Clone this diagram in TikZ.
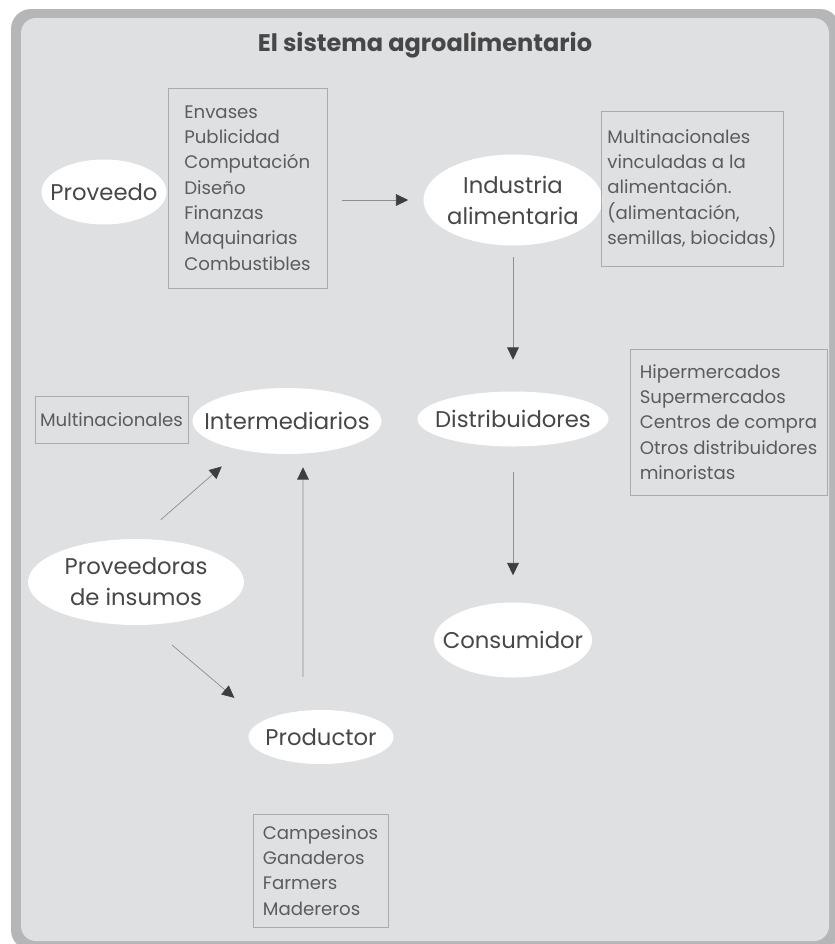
\documentclass[tikz,border=0pt]{standalone}
\usepackage{fontspec}
\setmainfont{Poppins}
\usetikzlibrary{shapes.geometric,arrows.meta}
\definecolor{Frame}{HTML}{B5B6B8}
\definecolor{Panel}{HTML}{DFE0E2}
\definecolor{Ink}{HTML}{474747}
\definecolor{InkSoft}{HTML}{5C5C5C}
\definecolor{BoxLine}{HTML}{ABABAB}
\definecolor{Wire}{HTML}{8E8E8E}
\definecolor{Tip}{HTML}{3E3E3E}
\newcommand{\ovalfont}{\fontsize{19.4}{26.5}\selectfont}
\newcommand{\listfont}{\fontsize{15.5}{21.6}\selectfont}
\newcommand{\titlefont}{\fontsize{20.5}{24}\selectfont\bfseries}

\begin{document}
\begin{tikzpicture}[x=0.03cm, y=-0.03cm,
    oval/.style={ellipse, fill=white, inner sep=0pt},
    listbox/.style={draw=BoxLine, line width=0.6pt, inner sep=0pt,
                    align=left, font=\listfont, text=InkSoft},
    flow/.style={draw=Wire, line width=0.6pt,
                 -{Triangle[length=3.7mm, width=3.5mm, color=Tip, fill=Tip]}},
    every label/.style={align=center, font=\ovalfont, text=Ink, inner sep=0pt}
  ]
  \useasboundingbox (0,0) rectangle (835,944);
  \fill[Frame, rounded corners=6mm] (11,9) rectangle (840,950);
  \fill[Panel, rounded corners=4.5mm] (21,18) rectangle (829,941);

  \node[font=\titlefont, text=Ink] (title) at (425,45) {El sistema agroalimentario};

  % ovals
  \node[oval, minimum width=3.75cm, minimum height=1.95cm, label=center:Proveedo] (prov) at (104,192) {};
  \node[oval, minimum width=5.37cm, minimum height=2.73cm, label={center:Industria\\alimentaria}] (ind) at (513,200) {};
  \node[oval, minimum width=5.67cm, minimum height=1.98cm, label=center:Intermediarios] (inter) at (287,421) {};
  \node[oval, minimum width=5.73cm, minimum height=1.65cm, label=center:Distribuidores] (dist) at (513,419) {};
  \node[oval, minimum width=4.74cm, minimum height=2.25cm, label=center:Consumidor] (cons) at (513,640) {};
  \node[oval, minimum width=6.48cm, minimum height=2.58cm, label={center:Proveedoras\\de insumos}] (provs) at (136,582) {};
  \node[oval, minimum width=4.35cm, minimum height=1.62cm, label=center:Productor] (prod) at (321,737) {};

  % lists
  \node[listbox, minimum width=4.77cm, minimum height=6cm] (servicios) at (247.5,188)
    {Envases\\Publicidad\\Computación\\Diseño\\Finanzas\\Maquinarias\\Combustibles};
  \node[listbox, minimum width=5.46cm, minimum height=4.65cm] (multis) at (692,188.5)
    {Multinacionales\\vinculadas a la\\alimentación.\\(alimentación,\\semillas, biocidas)};
  \node[listbox, minimum width=5.91cm, minimum height=4.38cm] (minoristas) at (728.5,422)
    {Hipermercados\\Supermercados\\Centros de compra\\Otros distribuidores\\minoristas};
  \node[listbox, minimum width=4.59cm, minimum height=1.41cm] (multi) at (111.5,419.5)
    {Multinacionales};
  \node[listbox, minimum width=4.05cm, minimum height=3.39cm] (productores) at (320.5,870.5)
    {Campesinos\\Ganaderos\\Farmers\\Madereros};

  % connectors
  \draw[flow, shorten <=4.5mm, shorten >=4.5mm] (servicios.east |- ind.west) -- (ind.west);
  \draw[flow, shorten <=3.45mm, shorten >=9.45mm] (ind.south) -- (dist.north);
  \draw[flow, shorten <=7.5mm, shorten >=8.1mm] (dist.south) -- (cons.north);
  \draw[flow, shorten <=9.9mm, shorten >=3.9mm] ([xshift=-5.4mm]prod.north) -- ([xshift=4.8mm]inter.south);
  \draw[flow, shorten <=8.7mm, shorten >=7.5mm] (provs.86) -- (inter.212);
  \draw[flow, shorten <=9.3mm, shorten >=10.8mm] (provs.-74) -- (prod.165);
\end{tikzpicture}
\end{document}
